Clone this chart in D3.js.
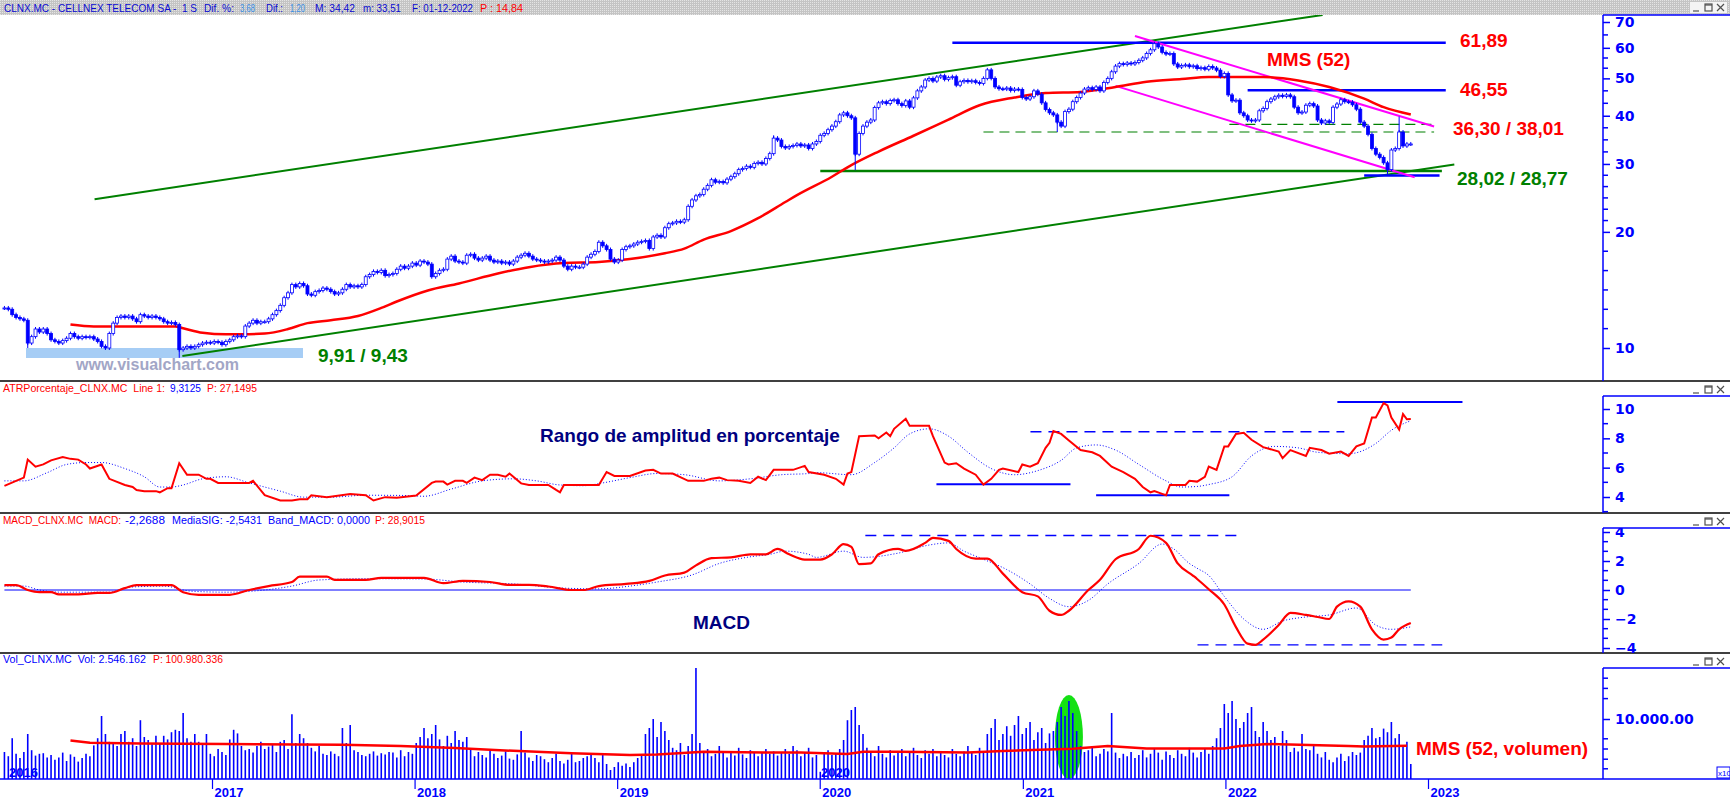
<!DOCTYPE html>
<html>
<head>
<meta charset="utf-8">
<script src="https://cdn.jsdelivr.net/npm/d3@7"></script>
<style>
	body { margin: 0; background: #fff; }
	svg { display: block; }
	text { font-family: "Liberation Sans", Arial, sans-serif; white-space: pre; }
</style>
</head>
<body>
<div id="chart"></div>
<script>
/* ---------- DATA (weekly, CLNX.MC, last bar 01-12-2022) ---------- */

// weekly closes, oldest first
var closes = [
	12.7, 12.6, 12.2, 12.0, 11.9, 11.8, 10.3, 10.7, 11.2, 11.0,
	11.2, 10.9, 10.5, 10.4, 10.3, 10.45, 10.6, 10.9, 10.7, 10.6,
	10.7, 10.65, 10.7, 10.55, 10.4, 10.1, 10.0, 10.9, 11.6, 12.0,
	12.1, 12.0, 12.1, 11.9, 11.7, 12.2, 12.1, 12.0, 12.1, 12.0,
	11.9, 11.7, 11.6, 11.65, 11.5, 9.9, 10.0, 10.1, 10.0, 10.1,
	10.2, 10.3, 10.35, 10.3, 10.4, 10.35, 10.2, 10.4, 10.5, 10.7,
	10.75, 10.7, 11.4, 11.6, 11.8, 11.6, 11.7, 11.7, 11.9, 12.2,
	12.5, 12.9, 13.5, 13.9, 14.6, 14.4, 14.7, 14.5, 13.8, 13.7,
	14.0, 14.1, 14.3, 14.2, 14.0, 13.8, 13.9, 14.2, 14.6, 14.4,
	14.5, 14.4, 14.6, 15.3, 15.5, 15.8, 15.7, 15.9, 15.4, 15.5,
	15.6, 16.0, 16.3, 16.1, 16.3, 16.6, 16.4, 16.8, 16.7, 16.5,
	15.3, 15.6, 15.9, 16.0, 17.0, 17.3, 16.8, 16.7, 16.6, 17.4,
	17.5, 17.1, 16.9, 17.1, 17.3, 16.9, 16.7, 16.8, 16.6, 16.7,
	16.5, 16.8, 17.2, 17.4, 17.6, 17.3, 17.0, 16.9, 16.8, 16.7,
	16.8, 16.9, 17.2, 16.9, 16.3, 16.0, 16.3, 16.2, 16.2, 16.5,
	17.2, 17.5, 17.8, 18.8, 18.4, 18.0, 17.0, 16.7, 16.9, 18.0,
	18.3, 18.4, 18.6, 18.8, 18.9, 19.0, 18.1, 19.4, 19.6, 19.4,
	20.5, 21.0, 21.1, 21.3, 21.2, 21.5, 23.3, 24.2, 24.8, 25.0,
	25.8, 26.4, 27.3, 26.9, 27.0, 26.8, 27.4, 27.8, 28.3, 29.0,
	29.2, 29.6, 29.4, 30.1, 30.3, 30.0, 31.0, 31.9, 35.0, 34.6,
	33.3, 33.0, 33.3, 33.5, 33.8, 33.4, 33.6, 32.9, 33.8, 34.3,
	35.6, 36.0, 36.8, 37.6, 38.6, 40.2, 40.7, 40.0, 39.5, 31.8,
	36.0, 37.6, 38.5, 39.0, 42.0, 43.2, 43.5, 43.0, 43.8, 44.0,
	43.0, 42.5, 43.7, 42.1, 44.5, 46.4, 47.5, 49.5, 50.0, 49.2,
	50.4, 50.8, 49.7, 50.2, 50.5, 48.0, 49.0, 49.4, 49.0, 49.3,
	48.8, 48.5, 50.0, 52.6, 50.0, 47.5, 47.0, 46.9, 47.2, 46.5,
	46.9, 46.8, 44.6, 44.2, 44.8, 46.4, 45.5, 43.2, 41.5, 40.7,
	40.2, 38.5, 37.6, 41.0, 41.6, 43.5, 44.6, 45.8, 46.9, 47.3,
	46.8, 47.5, 46.4, 48.8, 50.0, 52.0, 53.8, 54.6, 54.3, 54.8,
	54.5, 55.0, 55.7, 56.5, 58.0, 59.3, 61.5, 60.3, 58.4, 57.8,
	58.0, 54.5, 53.5, 54.0, 54.2, 53.6, 53.9, 53.0, 53.3, 52.8,
	53.7, 53.2, 52.5, 50.6, 51.5, 45.3, 43.7, 43.9, 40.7, 40.0,
	39.0, 38.8, 39.0, 41.2, 41.8, 43.5, 44.2, 44.8, 45.2, 44.9,
	45.3, 44.8, 42.1, 40.7, 40.9, 42.6, 43.0, 42.4, 39.0, 38.3,
	38.8, 38.4, 42.1, 42.9, 44.0, 43.5, 43.4, 42.7, 41.6, 38.5,
	37.6, 35.8, 32.9, 31.8, 31.2, 30.2, 29.0, 32.6, 32.9, 36.3,
	33.4, 33.8, 33.8
];

// long shadows worth showing: week index + extreme price
var shadowWeeks = [ 6, 26, 45, 198, 219, 271, 296, 356, 359 ];
var shadowPrices = [ 10.0, 9.9, 9.43, 35.6, 28.9, 36.3, 61.89, 28.02, 39.8 ];

// MMS (52): [week index, price]
var mms52 = [
	[ 17, 11.5 ], [ 23, 11.37 ], [ 33, 11.37 ], [ 44, 11.37 ], [ 46, 11.25 ], [ 51, 10.95 ],
	[ 57, 10.85 ], [ 61, 10.85 ], [ 67, 10.9 ], [ 73, 11.2 ], [ 78, 11.6 ], [ 84, 11.8 ],
	[ 91, 12.1 ], [ 97, 12.7 ], [ 101, 13.2 ], [ 109, 14.1 ], [ 117, 14.7 ], [ 127, 15.6 ],
	[ 135, 16.2 ], [ 144, 16.6 ], [ 153, 16.7 ], [ 161, 17.0 ], [ 170, 17.6 ], [ 175, 18.1 ],
	[ 180, 19.1 ], [ 187, 20.1 ], [ 194, 21.7 ], [ 201, 23.9 ], [ 204, 24.9 ], [ 213, 27.8 ],
	[ 217, 29.4 ], [ 225, 32.3 ], [ 234, 35.5 ], [ 243, 39.1 ], [ 251, 42.6 ], [ 260, 44.6 ],
	[ 268, 45.8 ], [ 277, 46.1 ], [ 286, 47.5 ], [ 294, 49.0 ], [ 303, 49.8 ], [ 310, 50.4 ],
	[ 324, 50.4 ], [ 333, 49.4 ], [ 341, 47.5 ], [ 350, 44.3 ], [ 355, 42.1 ], [ 362, 40.3 ]
];

// drawn lines on the price panel: [week index, price]
var priceLines = [
	{ kind: "channel", from: [ 23.2, 24.3 ], to: [ 339.3, 73.0 ] },
	{ kind: "channel", from: [ 45.8, 9.53 ], to: [ 373.2, 29.9 ] },
	{ kind: "level", from: [ 244, 61.89 ], to: [ 371, 61.89 ] },
	{ kind: "level", from: [ 320, 46.55 ], to: [ 371, 46.55 ] },
	{ kind: "level", from: [ 350, 28.02 ], to: [ 369.4, 28.02 ] },
	{ kind: "support", from: [ 210, 28.77 ], to: [ 370, 28.77 ] },
	{ kind: "dashed", from: [ 252, 36.30 ], to: [ 368, 36.30 ] },
	{ kind: "dashed", from: [ 315.3, 38.01 ], to: [ 368.8, 38.01 ] },
	{ kind: "bear", from: [ 291, 64.4 ], to: [ 368, 37.5 ] },
	{ kind: "bear", from: [ 286, 47.8 ], to: [ 363, 27.7 ] }
];

// ATR % : [week index, value]
var atrLine = [
	[ 0, 4.76 ], [ 3, 5.1 ], [ 5, 5.32 ], [ 6, 6.55 ], [ 8, 6.07 ], [ 10, 6.22 ], [ 12, 6.5 ], [ 15, 6.72 ],
	[ 17, 6.6 ], [ 19, 6.55 ], [ 21, 6.22 ], [ 22, 5.94 ], [ 25, 6.22 ], [ 27, 5.24 ], [ 31, 4.82 ], [ 33, 4.68 ],
	[ 34, 4.48 ], [ 36, 4.4 ], [ 39, 4.4 ], [ 40, 4.32 ], [ 42, 4.6 ], [ 43, 4.6 ], [ 45, 6.3 ], [ 47, 5.52 ],
	[ 50, 5.52 ], [ 52, 5.24 ], [ 53, 5.24 ], [ 55, 4.96 ], [ 63, 4.96 ], [ 64, 5.1 ], [ 67, 4.12 ], [ 71, 3.76 ],
	[ 74, 3.76 ], [ 76, 3.85 ], [ 78, 3.85 ], [ 79, 4.12 ], [ 83, 3.99 ], [ 89, 4.21 ], [ 93, 4.12 ], [ 95, 3.76 ],
	[ 98, 3.99 ], [ 101, 3.95 ], [ 106, 4.1 ], [ 110, 4.96 ], [ 111, 5.05 ], [ 113, 5.05 ], [ 114, 4.85 ], [ 116, 5.1 ],
	[ 118, 5.1 ], [ 119, 4.96 ], [ 121, 5.32 ], [ 123, 5.15 ], [ 125, 5.52 ], [ 127, 5.52 ], [ 129, 5.38 ], [ 130, 5.6 ],
	[ 133, 4.93 ], [ 135, 4.82 ], [ 140, 4.82 ], [ 142, 4.48 ], [ 143, 4.32 ], [ 144, 4.82 ], [ 153, 4.82 ], [ 155, 5.7 ],
	[ 157, 5.44 ], [ 161, 5.44 ], [ 165, 5.8 ], [ 167, 5.85 ], [ 169, 5.6 ], [ 172, 5.6 ], [ 176, 5.1 ], [ 180, 5.1 ],
	[ 182, 5.24 ], [ 184, 5.32 ], [ 186, 5.15 ], [ 189, 5.1 ], [ 192, 4.96 ], [ 194, 5.38 ], [ 196, 5.15 ], [ 198, 5.85 ],
	[ 203, 5.85 ], [ 206, 6.12 ], [ 207, 5.7 ], [ 211, 5.52 ], [ 214, 5.24 ], [ 216, 4.85 ], [ 217, 5.6 ], [ 218, 5.7 ],
	[ 220, 8.15 ], [ 224, 8.2 ], [ 225, 8.0 ], [ 227, 8.4 ], [ 228, 8.15 ], [ 229, 8.65 ], [ 232, 9.33 ], [ 233, 8.85 ],
	[ 238, 8.85 ], [ 239, 8.15 ], [ 242, 6.35 ], [ 243, 6.22 ], [ 245, 6.3 ], [ 247, 5.94 ], [ 250, 5.52 ], [ 252, 4.85 ],
	[ 254, 5.24 ], [ 256, 5.85 ], [ 257, 5.94 ], [ 261, 5.7 ], [ 262, 6.22 ], [ 264, 6.07 ], [ 266, 6.3 ], [ 268, 7.35 ],
	[ 269, 7.7 ], [ 270, 8.5 ], [ 272, 8.3 ], [ 274, 7.85 ], [ 277, 7.2 ], [ 280, 7.05 ], [ 282, 6.8 ], [ 285, 6.07 ],
	[ 288, 5.7 ], [ 291, 5.24 ], [ 293, 4.68 ], [ 295, 4.32 ], [ 296, 4.4 ], [ 298, 4.21 ], [ 299, 4.12 ], [ 300, 4.82 ],
	[ 304, 4.82 ], [ 305, 5.1 ], [ 307, 5.05 ], [ 309, 5.38 ], [ 310, 6.07 ], [ 312, 5.85 ], [ 314, 7.45 ], [ 315, 7.45 ],
	[ 317, 8.3 ], [ 319, 8.38 ], [ 321, 7.9 ], [ 324, 7.4 ], [ 328, 7.1 ], [ 329, 6.65 ], [ 331, 7.2 ], [ 335, 6.8 ],
	[ 336, 7.35 ], [ 339, 7.2 ], [ 341, 6.95 ], [ 344, 7.1 ], [ 346, 6.8 ], [ 348, 7.45 ], [ 350, 7.65 ], [ 352, 9.42 ],
	[ 353, 9.42 ], [ 355, 10.4 ], [ 356, 10.25 ], [ 357, 9.42 ], [ 359, 8.6 ], [ 360, 9.65 ], [ 361, 9.3 ], [ 362, 9.31 ]
];

// ATR signal (dotted)
var atrSignal = [
	[ 0, 5.1 ], [ 5, 5.1 ], [ 11, 5.66 ], [ 16, 6.22 ], [ 21, 6.35 ], [ 25, 6.35 ], [ 31, 5.94 ], [ 36, 5.38 ],
	[ 40, 4.68 ], [ 43, 4.68 ], [ 46, 4.82 ], [ 51, 5.24 ], [ 57, 5.38 ], [ 63, 4.96 ], [ 71, 4.4 ], [ 77, 3.99 ],
	[ 84, 3.99 ], [ 93, 4.12 ], [ 104, 4.1 ], [ 108, 4.05 ], [ 115, 4.54 ], [ 123, 5.1 ], [ 131, 5.24 ], [ 137, 5.1 ],
	[ 143, 4.82 ], [ 149, 4.77 ], [ 154, 4.96 ], [ 161, 5.32 ], [ 168, 5.6 ], [ 175, 5.52 ], [ 184, 5.1 ], [ 192, 5.24 ],
	[ 200, 5.52 ], [ 207, 5.6 ], [ 209, 5.66 ], [ 218, 5.52 ], [ 224, 6.35 ], [ 229, 7.35 ], [ 233, 8.3 ], [ 238, 8.65 ],
	[ 243, 8.15 ], [ 248, 7.05 ], [ 254, 5.94 ], [ 260, 5.52 ], [ 266, 5.8 ], [ 272, 6.5 ], [ 276, 7.35 ], [ 281, 7.55 ],
	[ 286, 7.2 ], [ 292, 6.22 ], [ 299, 5.1 ], [ 303, 4.68 ], [ 307, 4.72 ], [ 310, 4.85 ], [ 316, 5.38 ], [ 321, 6.8 ],
	[ 327, 7.45 ], [ 333, 7.35 ], [ 338, 7.05 ], [ 346, 6.95 ], [ 353, 7.65 ], [ 357, 8.55 ], [ 362, 9.2 ]
];

// lines drawn on the ATR panel
var atrMarks = [
	{ kind: "solid", from: [ 239.9, 4.87 ], to: [ 274.4, 4.87 ] },
	{ kind: "solid", from: [ 281.0, 4.12 ], to: [ 315.3, 4.12 ] },
	{ kind: "dashed", from: [ 264.1, 8.45 ], to: [ 344.9, 8.45 ] },
	{ kind: "solid", from: [ 343.1, 10.48 ], to: [ 375.3, 10.48 ] }
];

// MACD line
var macdLine = [
	[ 0, 0.33 ], [ 3, 0.33 ], [ 6, 0 ], [ 9, -0.15 ], [ 12, -0.15 ], [ 14, -0.3 ], [ 19, -0.3 ], [ 24, -0.2 ],
	[ 27, -0.2 ], [ 31, 0.13 ], [ 34, 0.33 ], [ 43, 0.33 ], [ 46, -0.15 ], [ 50, -0.33 ], [ 58, -0.33 ], [ 63, 0 ],
	[ 68, 0.27 ], [ 74, 0.55 ], [ 76, 0.92 ], [ 83, 0.92 ], [ 85, 0.7 ], [ 93, 0.7 ], [ 97, 0.84 ], [ 108, 0.84 ],
	[ 113, 0.47 ], [ 118, 0.63 ], [ 125, 0.55 ], [ 130, 0.35 ], [ 135, 0.35 ], [ 140, 0.24 ], [ 146, 0 ], [ 149, 0 ],
	[ 153, 0.27 ], [ 160, 0.42 ], [ 166, 0.63 ], [ 170, 1.0 ], [ 175, 1.2 ], [ 178, 1.7 ], [ 182, 2.2 ], [ 187, 2.25 ],
	[ 192, 2.46 ], [ 196, 2.46 ], [ 199, 2.83 ], [ 202, 2.46 ], [ 206, 2.1 ], [ 210, 2.1 ], [ 213, 2.46 ], [ 216, 3.17 ],
	[ 218, 2.97 ], [ 220, 1.78 ], [ 223, 1.83 ], [ 225, 2.46 ], [ 230, 2.83 ], [ 232, 2.7 ], [ 237, 3.25 ], [ 239, 3.59 ],
	[ 243, 3.39 ], [ 245, 2.83 ], [ 250, 2.17 ], [ 253, 2.17 ], [ 257, 1.13 ], [ 262, -0.15 ], [ 266, -0.44 ], [ 269, -1.43 ],
	[ 272, -1.72 ], [ 274, -1.43 ], [ 279, 0 ], [ 282, 0.7 ], [ 286, 2.12 ], [ 292, 2.83 ], [ 295, 3.74 ], [ 299, 3.25 ],
	[ 302, 1.83 ], [ 306, 0.98 ], [ 307, 0.76 ], [ 310, 0.05 ], [ 314, -1.0 ], [ 317, -2.56 ], [ 320, -3.7 ], [ 322, -3.78 ],
	[ 324, -3.42 ], [ 328, -2.42 ], [ 331, -1.58 ], [ 335, -1.72 ], [ 338, -1.86 ], [ 341, -2.0 ], [ 343, -1.15 ], [ 346, -0.78 ],
	[ 349, -1.15 ], [ 352, -2.71 ], [ 355, -3.42 ], [ 357, -3.28 ], [ 359, -2.71 ], [ 362, -2.27 ]
];

// MediaSIG (dotted)
var macdSignal = [
	[ 0, 0.27 ], [ 5, 0.27 ], [ 9, 0 ], [ 15, -0.15 ], [ 27, -0.15 ], [ 32, 0.19 ], [ 41, 0.27 ], [ 48, -0.08 ],
	[ 57, -0.15 ], [ 67, 0 ], [ 74, 0.27 ], [ 81, 0.69 ], [ 93, 0.78 ], [ 108, 0.76 ], [ 118, 0.55 ], [ 131, 0.42 ],
	[ 144, 0.13 ], [ 153, 0.08 ], [ 161, 0.27 ], [ 168, 0.55 ], [ 177, 1.04 ], [ 184, 1.83 ], [ 191, 2.25 ], [ 197, 2.46 ],
	[ 201, 2.68 ], [ 207, 2.46 ], [ 209, 2.25 ], [ 216, 2.68 ], [ 221, 2.25 ], [ 230, 2.54 ], [ 238, 3.1 ], [ 243, 3.25 ],
	[ 247, 2.68 ], [ 252, 2.12 ], [ 258, 1.41 ], [ 264, 0.42 ], [ 269, -0.58 ], [ 274, -1.15 ], [ 279, -0.72 ], [ 284, 0.42 ],
	[ 292, 1.83 ], [ 298, 3.17 ], [ 301, 2.83 ], [ 305, 1.83 ], [ 307, 1.5 ], [ 310, 1.0 ], [ 314, -0.44 ], [ 319, -2.0 ],
	[ 324, -2.71 ], [ 329, -2.14 ], [ 335, -1.86 ], [ 341, -1.72 ], [ 348, -1.24 ], [ 353, -2.42 ], [ 357, -2.71 ], [ 362, -2.54 ]
];

var macdMarks = [
	{ kind: "zero", from: [ 0, 0 ], to: [ 362, 0 ] },
	{ kind: "dashed", from: [ 221.6, 3.76 ], to: [ 317.6, 3.76 ] },
	{ kind: "dashed", from: [ 307.1, -3.78 ], to: [ 370.1, -3.78 ] }
];

// weekly volume, millions of shares
var volumes = [
	4.5, 3.8, 6.8, 4.2, 3.5, 4.5, 7.5, 4.8, 3.9, 4.2,
	4.3, 3.6, 4.0, 3.2, 3.6, 4.4, 3.0, 4.1, 3.7, 2.9,
	3.5, 4.2, 3.8, 5.6, 6.8, 10.5, 7.5, 6.2, 6.0, 5.5,
	7.5, 8.0, 6.2, 6.8, 5.5, 9.8, 7.0, 6.5, 5.8, 7.2,
	6.0, 7.2, 6.6, 7.8, 8.2, 8.0, 11.0, 6.8, 6.2, 7.5,
	6.2, 5.8, 7.5, 4.2, 3.8, 5.0, 4.5, 4.0, 6.6, 8.2,
	7.6, 5.5, 4.8, 5.0, 4.4, 5.5, 6.2, 5.0, 5.4, 5.8,
	4.5, 6.2, 6.5, 5.0, 10.8, 6.0, 7.5, 6.8, 6.0, 5.2,
	4.6, 5.5, 4.2, 4.0, 4.6, 4.2, 3.8, 8.5, 6.0, 9.0,
	4.8, 4.5, 4.0, 3.8, 4.2, 4.6, 3.9, 4.3, 4.1, 4.5,
	4.4, 3.6, 4.8, 3.8, 4.5, 4.2, 6.0, 7.0, 8.5, 6.8,
	7.5, 9.0, 6.6, 5.5, 7.2, 6.0, 8.0, 6.5, 6.2, 7.0,
	5.0, 3.8, 4.5, 4.0, 3.6, 4.8, 4.2, 3.5, 3.9, 4.6,
	3.4, 3.2, 4.1, 8.0, 4.4, 3.6, 3.0, 4.0, 3.8, 3.3,
	2.8, 3.5, 4.2, 3.0, 2.6, 3.2, 4.2, 2.8, 3.0, 3.5,
	3.8, 4.0, 3.5, 2.8, 4.2, 2.5, 1.5, 2.0, 2.8, 2.2,
	2.6, 2.0, 2.8, 3.5, 4.0, 7.5, 8.5, 10.0, 7.0, 9.5,
	8.0, 6.5, 5.2, 4.8, 6.0, 4.0, 5.5, 7.5, 19.5, 6.0,
	4.5, 5.0, 3.8, 4.2, 5.5, 4.6, 3.6, 4.4, 3.9, 5.2,
	4.1, 3.5, 4.8, 4.5, 3.8, 4.5, 5.0, 4.2, 4.6, 3.9,
	4.5, 5.0, 4.2, 5.5, 4.8, 3.8, 4.5, 5.2, 3.6, 4.0,
	1.2, 4.5, 4.8, 4.0, 4.2, 5.0, 6.5, 9.8, 11.5, 12.0,
	9.0, 7.5, 5.2, 4.6, 3.8, 5.5, 4.2, 3.6, 4.8, 3.9,
	4.4, 5.0, 3.8, 4.6, 5.2, 4.0, 3.5, 4.8, 4.2, 5.0,
	3.8, 4.5, 4.0, 3.6, 5.0, 4.2, 3.8, 4.6, 5.5, 4.5,
	4.0, 5.2, 4.5, 7.5, 8.5, 10.0, 6.5, 7.5, 8.8, 7.2,
	9.0, 10.5, 7.5, 8.5, 9.5, 6.5, 7.8, 8.5, 6.0, 7.6,
	8.0, 9.5, 12.0, 10.5, 13.0, 11.0, 8.0, 5.5, 4.5, 4.8,
	5.5, 3.8, 4.2, 5.0, 4.6, 11.0, 4.4, 3.5, 4.2, 3.8,
	4.5, 3.5, 4.0, 4.8, 3.6, 4.2, 5.0, 4.4, 3.2, 4.6,
	4.0, 3.5, 4.8, 4.2, 3.8, 5.2, 4.4, 3.6, 4.5, 5.0,
	4.2, 5.5, 6.8, 8.5, 12.5, 11.0, 13.0, 10.0, 8.5, 9.5,
	11.0, 12.0, 8.0, 7.0, 9.5, 8.0, 6.5, 7.0, 5.5, 8.0,
	6.5, 4.5, 5.2, 4.6, 7.5, 5.0, 4.8, 5.5, 4.2, 3.6,
	4.5, 3.2, 2.8, 3.6, 4.2, 3.0, 3.8, 4.5, 4.0, 4.4,
	6.5, 7.2, 8.5, 6.8, 7.0, 8.4, 7.8, 9.5, 6.8, 7.5,
	5.5, 6.2, 2.5
];

// MMS (52, volumen)
var volMms = [
	[ 17, 6.4 ], [ 22, 6.05 ], [ 35, 5.9 ], [ 57, 5.83 ], [ 87, 5.7 ], [ 102, 5.5 ], [ 116, 5.17 ],
	[ 131, 4.7 ], [ 146, 4.28 ], [ 161, 4.0 ], [ 168, 4.1 ], [ 180, 4.55 ], [ 190, 4.44 ], [ 205, 4.4 ],
	[ 217, 4.17 ], [ 221, 4.55 ], [ 230, 4.55 ], [ 248, 4.4 ], [ 257, 4.67 ], [ 275, 5.06 ], [ 284, 5.5 ],
	[ 294, 5.1 ], [ 314, 5.1 ], [ 318, 5.5 ], [ 325, 5.83 ], [ 346, 5.5 ], [ 350, 5.4 ], [ 361, 5.55 ]
];

// axis ticks
var priceTicks = [ 10, 20, 30, 40, 50, 60, 70 ];
var priceMinorCount = [ 5, 5, 3, 2, 2, 1 ]; // minor ticks between neighbouring labels
var atrTicks = [ 4, 6, 8, 10 ];
var atrMinor = [ 3, 5, 7, 9 ];
var macdTicks = [ -4, -2, 0, 2, 4 ];
var volTicks = [ 10 ];
var volMinor = [ 1.7, 3.3, 5.0, 6.7, 13.4, 15.1, 16.8 ];
var yearTicks = [ 2017, 2018, 2019, 2020, 2021, 2022, 2023 ];

/* ---------- LAYOUT ---------- */
var W = 1730,
	H = 799,
	axisX = 1603,
	main = { top: 15, bottom: 381 },
	atrP = { top: 396, bottom: 513 },
	macdP = { top: 528, bottom: 653 },
	volP = { top: 668, bottom: 779 };

var BLUE = "#0000ff",
	RED = "#ff0000",
	GREEN = "#008000",
	NAVY = "#000080";

var svg = d3.select( "#chart" ).append( "svg" )
	.attr( "width", W )
	.attr( "height", H );

var defs = svg.append( "defs" );

// dithered grey of the title strip
var dither = defs.append( "pattern" )
	.attr( "id", "dither" )
	.attr( "width", 2 ).attr( "height", 2 )
	.attr( "patternUnits", "userSpaceOnUse" );
dither.append( "rect" ).attr( "width", 2 ).attr( "height", 2 ).attr( "fill", "#c4c4c4" );
dither.append( "rect" ).attr( "width", 1 ).attr( "height", 1 ).attr( "fill", "#e4e4e4" );

function addClip( id, x, y, w, h ) {
	defs.append( "clipPath" ).attr( "id", id )
		.append( "rect" ).attr( "x", x ).attr( "y", y ).attr( "width", w ).attr( "height", h );
}
[ [ "main", main ], [ "atr", atrP ], [ "macd", macdP ], [ "vol", volP ] ].forEach( function ( p ) {
	addClip( "clip-" + p[ 0 ], 0, p[ 1 ].top, axisX, p[ 1 ].bottom - p[ 1 ].top );
	addClip( "axclip-" + p[ 0 ], axisX, p[ 1 ].top, W - axisX, p[ 1 ].bottom - p[ 1 ].top );
} );

/* ---------- SCALES ---------- */
var N = closes.length;
var lastWeek = new Date( 2022, 11, 1 );

var x = d3.scaleTime()
	.domain( [ new Date( 2017, 0, 1 ), new Date( 2023, 0, 1 ) ] )
	.range( [ 212, 1428 ] );

// week index -> pixel (fractional indexes allowed for drawn lines)
function wx( i ) {
	return x( new Date( lastWeek.getTime() - ( N - 1 - i ) * 7 * 864e5 ) );
}

var yP = d3.scaleLog().domain( [ 10, 70 ] ).range( [ 348, 22 ] );
var yA = d3.scaleLinear().domain( [ 4, 10 ] ).range( [ 497, 409 ] );
var yM = d3.scaleLinear().domain( [ -4, 4 ] ).range( [ 648, 532 ] );
var yV = d3.scaleLinear().domain( [ 0, 10 ] ).range( [ 779, 719 ] );

/* ---------- FRAME ---------- */
svg.append( "rect" ).attr( "width", W ).attr( "height", 15 ).attr( "fill", "url(#dither)" );

// black separators between panels
[ main.bottom, atrP.bottom, macdP.bottom ].forEach( function ( y ) {
	svg.append( "line" )
		.attr( "x1", 0 ).attr( "x2", W ).attr( "y1", y ).attr( "y2", y )
		.attr( "stroke", "#000" ).attr( "stroke-width", 1.5 );
} );

// header texts: [text, x start, x end, colour]
function header( y, parts ) {
	var t = svg.append( "text" ).attr( "y", y ).attr( "font-size", 10.5 );
	parts.forEach( function ( p ) {
		t.append( "tspan" ).attr( "x", p[ 1 ] ).attr( "fill", p[ 3 ] )
			.attr( "textLength", p[ 2 ] - p[ 1 ] ).attr( "lengthAdjust", "spacingAndGlyphs" )
			.text( p[ 0 ] );
	} );
}
var HB = "#0a0ad2",
	LB = "#3b8fe6";
header( 12, [
	[ "CLNX.MC - CELLNEX TELECOM SA -  1 S", 4, 197, HB ], [ "Dif. %:", 204, 234, HB ], [ "3,68", 240, 255, LB ],
	[ "Dif.:", 266, 283, HB ], [ "1,20", 290, 305, LB ], [ "M: 34,42", 315, 355, HB ], [ "m: 33,51", 363, 401, HB ],
	[ "F: 01-12-2022", 412, 473, HB ], [ "P : 14,84", 480, 523, RED ]
] );
header( 392, [
	[ "ATRPorcentaje_CLNX.MC  Line 1:", 3, 165, RED ], [ "9,3125", 170, 201, BLUE ], [ "P: 27,1495", 207, 257, RED ]
] );
header( 524, [
	[ "MACD_CLNX.MC  MACD:", 3, 121, RED ], [ "-2,2688", 125, 165, BLUE ], [ "MediaSIG: -2,5431", 172, 262, BLUE ],
	[ "Band_MACD: 0,0000", 268, 370, BLUE ], [ "P: 28,9015", 375, 425, RED ]
] );
header( 663, [ [ "Vol_CLNX.MC  Vol: 2.546.162", 3, 146, BLUE ], [ "P: 100.980.336", 153, 223, RED ] ] );

// little window buttons ( _ [] x )
function winButtons( y ) {
	var g = svg.append( "g" ).attr( "transform", "translate(1691," + y + ")" )
		.attr( "stroke", "#505050" ).attr( "fill", "none" ).attr( "stroke-width", 1.2 );
	if ( y < 10 ) {
		g.append( "rect" ).attr( "x", -1 ).attr( "y", -1 ).attr( "width", 37 ).attr( "height", 11 )
			.attr( "fill", "#f4f4f4" ).attr( "stroke", "none" );
	}
	g.append( "line" ).attr( "x1", 2 ).attr( "x2", 8 ).attr( "y1", 8 ).attr( "y2", 8 );
	g.append( "rect" ).attr( "x", 14 ).attr( "y", 1 ).attr( "width", 7 ).attr( "height", 7 );
	g.append( "line" ).attr( "x1", 14 ).attr( "x2", 21 ).attr( "y1", 2 ).attr( "y2", 2 );
	g.append( "path" ).attr( "d", "M26,1 L33,8 M33,1 L26,8" );
}
winButtons( 3 );
winButtons( 385 );
winButtons( 517 );
winButtons( 657 );

/* ---------- PRICE PANEL ---------- */
var gMain = svg.append( "g" ).attr( "clip-path", "url(#clip-main)" );

// watermark + lows band
gMain.append( "rect" ).attr( "x", 26 ).attr( "y", 348 ).attr( "width", 277 ).attr( "height", 10 )
	.attr( "fill", "#a6cdf5" );
gMain.append( "text" ).attr( "x", 76 ).attr( "y", 370 )
	.attr( "font-size", 16 ).attr( "font-weight", "bold" ).attr( "fill", "#a2a6c6" )
	.text( "www.visualchart.com" );

var lineStyle = {
	channel: { c: GREEN, w: 2, d: null },
	level: { c: BLUE, w: 2.5, d: null },
	support: { c: GREEN, w: 2.5, d: null },
	dashed: { c: GREEN, w: 1.2, d: "10,6" },
	bear: { c: "#ff00ff", w: 2, d: null }
};
gMain.selectAll( "line.mark" ).data( priceLines ).join( "line" )
	.attr( "class", "mark" )
	.attr( "x1", function ( d ) { return wx( d.from[ 0 ] ); } )
	.attr( "y1", function ( d ) { return yP( d.from[ 1 ] ); } )
	.attr( "x2", function ( d ) { return wx( d.to[ 0 ] ); } )
	.attr( "y2", function ( d ) { return yP( d.to[ 1 ] ); } )
	.attr( "stroke", function ( d ) { return lineStyle[ d.kind ].c; } )
	.attr( "stroke-width", function ( d ) { return lineStyle[ d.kind ].w; } )
	.attr( "stroke-dasharray", function ( d ) { return lineStyle[ d.kind ].d; } );

// MMS 52
gMain.append( "path" ).datum( mms52 )
	.attr( "fill", "none" ).attr( "stroke", RED ).attr( "stroke-width", 2.5 )
	.attr( "d", d3.line()
		.x( function ( d ) { return wx( d[ 0 ] ); } )
		.y( function ( d ) { return yP( d[ 1 ] ); } )
		.curve( d3.curveMonotoneX ) );

// candles: open = previous close
var candles = closes.map( function ( c, i ) {
	return { i: i, o: i ? closes[ i - 1 ] : c, c: c };
} );

gMain.selectAll( "line.shadow" )
	.data( shadowWeeks.map( function ( w, k ) { return { i: w, v: shadowPrices[ k ] }; } ) )
	.join( "line" ).attr( "class", "shadow" )
	.attr( "x1", function ( d ) { return wx( d.i ); } )
	.attr( "x2", function ( d ) { return wx( d.i ); } )
	.attr( "y1", function ( d ) { return yP( d.v ); } )
	.attr( "y2", function ( d ) { return yP( closes[ d.i ] ); } )
	.attr( "stroke", BLUE ).attr( "stroke-width", 1 );

gMain.selectAll( "line.wick" ).data( candles ).join( "line" ).attr( "class", "wick" )
	.attr( "x1", function ( d ) { return wx( d.i ); } )
	.attr( "x2", function ( d ) { return wx( d.i ); } )
	.attr( "y1", function ( d ) { return yP( Math.max( d.o, d.c ) ) - 2; } )
	.attr( "y2", function ( d ) { return yP( Math.min( d.o, d.c ) ) + 2; } )
	.attr( "stroke", BLUE ).attr( "stroke-width", 1 );

gMain.selectAll( "rect.body" ).data( candles ).join( "rect" ).attr( "class", "body" )
	.attr( "x", function ( d ) { return wx( d.i ) - 1.5; } )
	.attr( "width", 3 )
	.attr( "y", function ( d ) { return yP( Math.max( d.o, d.c ) ); } )
	.attr( "height", function ( d ) { return Math.max( 1, Math.abs( yP( d.o ) - yP( d.c ) ) ); } )
	.attr( "fill", function ( d ) { return d.c >= d.o ? "#fff" : BLUE; } )
	.attr( "stroke", BLUE ).attr( "stroke-width", 0.8 );

// price panel labels
function label( g, txt, px, py, colour, size ) {
	g.append( "text" ).attr( "x", px ).attr( "y", py )
		.attr( "font-size", size || 19 ).attr( "font-weight", "bold" ).attr( "fill", colour )
		.text( txt );
}
label( svg, "61,89", 1460, 47, RED );
label( svg, "MMS (52)", 1267, 66, RED );
label( svg, "46,55", 1460, 96, RED );
label( svg, "36,30 / 38,01", 1453, 135, RED );
label( svg, "28,02 / 28,77", 1457, 185, GREEN );
label( svg, "9,91 / 9,43", 318, 362, GREEN );

/* ---------- ATR PANEL ---------- */
var gAtr = svg.append( "g" ).attr( "clip-path", "url(#clip-atr)" );
var atrPath = d3.line()
	.x( function ( d ) { return wx( d[ 0 ] ); } )
	.y( function ( d ) { return yA( d[ 1 ] ); } );

gAtr.selectAll( "line.mark" ).data( atrMarks ).join( "line" )
	.attr( "x1", function ( d ) { return wx( d.from[ 0 ] ); } )
	.attr( "y1", function ( d ) { return yA( d.from[ 1 ] ); } )
	.attr( "x2", function ( d ) { return wx( d.to[ 0 ] ); } )
	.attr( "y2", function ( d ) { return yA( d.to[ 1 ] ); } )
	.attr( "stroke", BLUE )
	.attr( "stroke-width", function ( d ) { return d.kind === "dashed" ? 1.5 : 2; } )
	.attr( "stroke-dasharray", function ( d ) { return d.kind === "dashed" ? "11,7" : null; } );

gAtr.append( "path" ).datum( atrSignal )
	.attr( "fill", "none" ).attr( "stroke", BLUE ).attr( "stroke-width", 1 )
	.attr( "stroke-dasharray", "1,2" ).attr( "d", atrPath.curve( d3.curveMonotoneX ) );
gAtr.append( "path" ).datum( atrLine )
	.attr( "fill", "none" ).attr( "stroke", RED ).attr( "stroke-width", 2 )
	.attr( "d", atrPath.curve( d3.curveLinear ) );

label( svg, "Rango de amplitud en porcentaje", 540, 442, NAVY );

/* ---------- MACD PANEL ---------- */
var gMacd = svg.append( "g" ).attr( "clip-path", "url(#clip-macd)" );
var macdPath = d3.line()
	.x( function ( d ) { return wx( d[ 0 ] ); } )
	.y( function ( d ) { return yM( d[ 1 ] ); } );

gMacd.selectAll( "line.mark" ).data( macdMarks ).join( "line" )
	.attr( "x1", function ( d ) { return wx( d.from[ 0 ] ); } )
	.attr( "y1", function ( d ) { return yM( d.from[ 1 ] ); } )
	.attr( "x2", function ( d ) { return wx( d.to[ 0 ] ); } )
	.attr( "y2", function ( d ) { return yM( d.to[ 1 ] ); } )
	.attr( "stroke", BLUE )
	.attr( "stroke-width", function ( d ) { return d.kind === "zero" ? 1 : 1.3; } )
	.attr( "stroke-dasharray", function ( d ) { return d.kind === "dashed" ? "11,7" : null; } );

gMacd.append( "path" ).datum( macdSignal )
	.attr( "fill", "none" ).attr( "stroke", BLUE ).attr( "stroke-width", 1 )
	.attr( "stroke-dasharray", "1,2" ).attr( "d", macdPath.curve( d3.curveMonotoneX ) );
gMacd.append( "path" ).datum( macdLine )
	.attr( "fill", "none" ).attr( "stroke", RED ).attr( "stroke-width", 2.2 )
	.attr( "d", macdPath.curve( d3.curveMonotoneX ) );

label( svg, "MACD", 693, 629, NAVY );

/* ---------- VOLUME PANEL ---------- */
var gVol = svg.append( "g" ).attr( "clip-path", "url(#clip-vol)" );

// highlighted volume burst
gVol.append( "ellipse" )
	.attr( "cx", wx( 274 ) ).attr( "cy", 737 ).attr( "rx", 14 ).attr( "ry", 42 )
	.attr( "fill", "#14e014" );

gVol.selectAll( "line.bar" ).data( volumes ).join( "line" ).attr( "class", "bar" )
	.attr( "x1", function ( d, i ) { return wx( i ); } )
	.attr( "x2", function ( d, i ) { return wx( i ); } )
	.attr( "y1", yV( 0 ) )
	.attr( "y2", function ( d ) { return yV( d ); } )
	.attr( "stroke", BLUE ).attr( "stroke-width", 1.6 );

gVol.append( "path" ).datum( volMms )
	.attr( "fill", "none" ).attr( "stroke", RED ).attr( "stroke-width", 2.5 )
	.attr( "d", d3.line()
		.x( function ( d ) { return wx( d[ 0 ] ); } )
		.y( function ( d ) { return yV( d[ 1 ] ); } ) );

// stray year labels the platform paints inside the panel
label( svg, "2016", 9, 777, BLUE, 13 );
label( svg, "2020", 821, 777, BLUE, 13 );
label( svg, "MMS (52, volumen)", 1416, 755, RED );

/* ---------- AXES ---------- */
function styleAxis( g ) {
	g.select( ".domain" ).remove();
	g.selectAll( ".tick line" ).attr( "stroke", BLUE ).attr( "stroke-width", 1.5 );
	g.selectAll( ".tick text" )
		.attr( "fill", BLUE )
		.style( "font-family", "'DejaVu Sans', Verdana, sans-serif" )
		.style( "font-size", "14px" )
		.style( "font-weight", "bold" );
}

// clip group (page coordinates) holding a translated axis group
function valueAxis( axis, clipId ) {
	svg.append( "g" ).attr( "clip-path", "url(#" + clipId + ")" )
		.append( "g" ).attr( "transform", "translate(" + axisX + ",0)" )
		.call( axis )
		.call( styleAxis );
}

function minorTicks( values, scale, clipId ) {
	svg.append( "g" ).attr( "clip-path", "url(#" + clipId + ")" )
		.selectAll( "line" ).data( values ).join( "line" )
		.attr( "x1", axisX ).attr( "x2", axisX + 5 )
		.attr( "y1", function ( d ) { return scale ? scale( d ) : d; } )
		.attr( "y2", function ( d ) { return scale ? scale( d ) : d; } )
		.attr( "stroke", BLUE ).attr( "stroke-width", 1.5 );
}

// price axis: minor ticks split each label gap evenly in pixels
var priceMinorY = [];
priceMinorCount.forEach( function ( n, k ) {
	var y0 = yP( priceTicks[ k ] ),
		y1 = yP( priceTicks[ k + 1 ] );
	for ( var j = 1; j <= n; j++ ) {
		priceMinorY.push( y0 + ( y1 - y0 ) * j / ( n + 1 ) );
	}
} );
minorTicks( priceMinorY, null, "axclip-main" );
valueAxis( d3.axisRight( yP ).tickValues( priceTicks ).tickSize( 7 ).tickPadding( 5 )
	.tickFormat( d3.format( "d" ) ), "axclip-main" );

minorTicks( atrMinor, yA, "axclip-atr" );
valueAxis( d3.axisRight( yA ).tickValues( atrTicks ).tickSize( 7 ).tickPadding( 5 )
	.tickFormat( d3.format( "d" ) ), "axclip-atr" );

var macdMinor = [];
for ( var k = 0; k < macdTicks.length - 1; k++ ) {
	macdMinor.push( macdTicks[ k ] + 2 / 3, macdTicks[ k ] + 4 / 3 );
}
minorTicks( macdMinor, yM, "axclip-macd" );
valueAxis( d3.axisRight( yM ).tickValues( macdTicks ).tickSize( 7 ).tickPadding( 5 )
	.tickFormat( d3.format( "d" ) ), "axclip-macd" );

minorTicks( volMinor, yV, "axclip-vol" );
valueAxis( d3.axisRight( yV ).tickValues( volTicks ).tickSize( 7 ).tickPadding( 5 )
	.tickFormat( function () { return "10.000.00"; } ), "axclip-vol" );

// blue frame of the value axes
[ main, atrP, macdP, volP ].forEach( function ( p ) {
	svg.append( "line" )
		.attr( "x1", axisX ).attr( "x2", axisX ).attr( "y1", p.top ).attr( "y2", p.bottom )
		.attr( "stroke", BLUE ).attr( "stroke-width", 1.5 );
	svg.append( "line" )
		.attr( "x1", axisX ).attr( "x2", W ).attr( "y1", p.top ).attr( "y2", p.top )
		.attr( "stroke", BLUE ).attr( "stroke-width", 1.5 );
} );

// x10 multiplier box
svg.append( "rect" ).attr( "x", 1717 ).attr( "y", 767 ).attr( "width", 13 ).attr( "height", 11 )
	.attr( "fill", "#fff" ).attr( "stroke", BLUE ).attr( "stroke-width", 1 );
svg.append( "text" ).attr( "x", 1718 ).attr( "y", 776 ).attr( "font-size", 8 ).attr( "fill", BLUE ).text( "x10" );

// time axis
svg.append( "line" ).attr( "x1", 0 ).attr( "x2", W ).attr( "y1", volP.bottom ).attr( "y2", volP.bottom )
	.attr( "stroke", BLUE ).attr( "stroke-width", 1.5 );
var xAxis = svg.append( "g" ).attr( "transform", "translate(0," + volP.bottom + ")" )
	.call( d3.axisBottom( x )
		.tickValues( yearTicks.map( function ( y ) { return new Date( y, 0, 1 ); } ) )
		.tickSize( 10 )
		.tickFormat( d3.timeFormat( "%Y" ) ) );
xAxis.select( ".domain" ).remove();
xAxis.selectAll( ".tick line" ).attr( "stroke", BLUE ).attr( "stroke-width", 1.2 );
xAxis.selectAll( ".tick text" )
	.attr( "text-anchor", "start" ).attr( "x", 2 ).attr( "y", 9 ).attr( "dy", "0.71em" )
	.attr( "fill", BLUE ).attr( "font-size", 13 ).attr( "font-weight", "bold" );
</script>
</body>
</html>
